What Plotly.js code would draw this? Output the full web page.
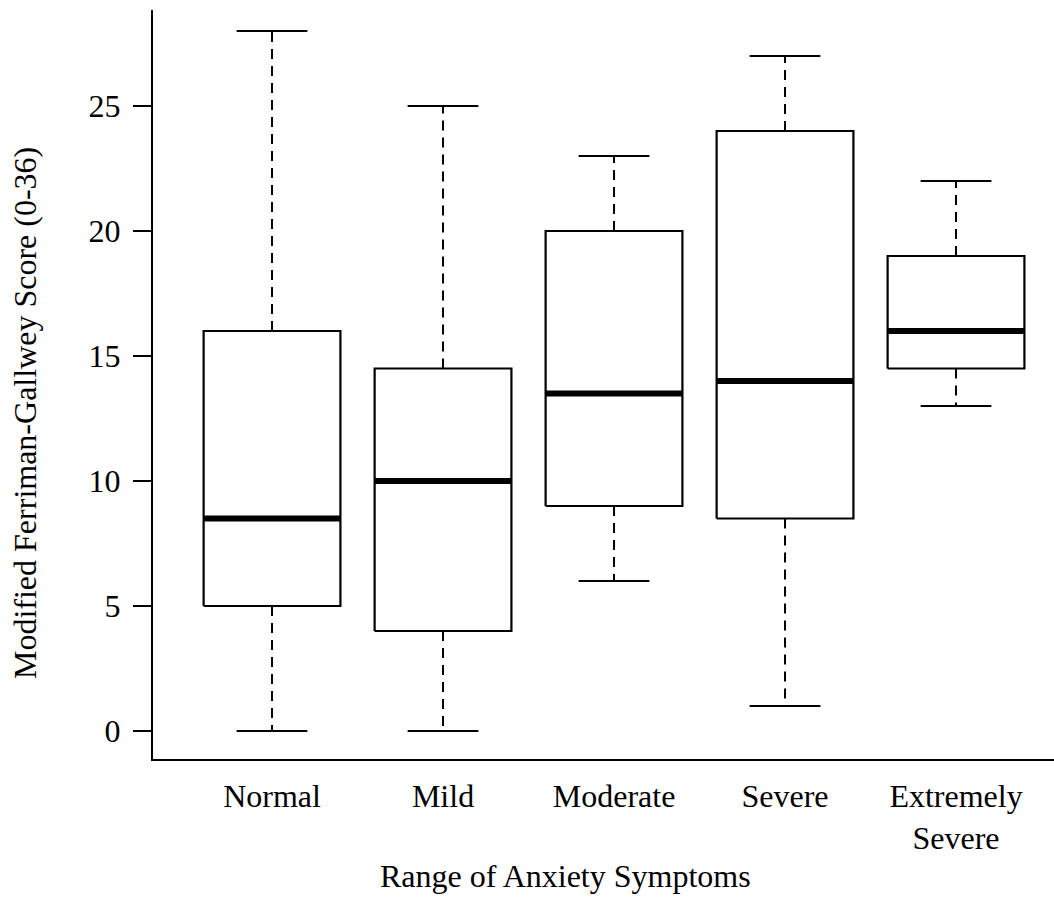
<!DOCTYPE html>
<html>
<head>
<meta charset="utf-8">
<script src="https://cdn.plot.ly/plotly-3.0.1.min.js"></script>
<style>html,body{margin:0;padding:0;background:#fff;}#chart{width:1054px;height:897px;}</style>
</head>
<body>
<div id="chart"></div>
<script>
const categories = ["Normal", "Mild", "Moderate", "Severe", "Extremely<br>Severe"];
const minVals = [0, 0, 6, 1, 13];
const q1Vals = [5, 4, 9, 8.5, 14.5];
const medianVals = [8.5, 10, 13.5, 14, 16];
const q3Vals = [16, 14.5, 20, 24, 19];
const maxVals = [28, 25, 23, 27, 22];
const yTicks = [0, 5, 10, 15, 20, 25];

const BOX_HALF = 0.4;
const CAP_HALF = 0.207;
const FONT = "Liberation Serif, Times New Roman, serif";
const FS = 32;

const traces = [];
categories.forEach((c, i) => {
  traces.push({
    type: "scatter", mode: "lines", hoverinfo: "skip", showlegend: false,
    x: [i, i, null, i, i],
    y: [q3Vals[i], maxVals[i], null, q1Vals[i], minVals[i]],
    line: {color: "#000", width: 2, dash: "10px,7px"}
  });
  traces.push({
    type: "scatter", mode: "lines", hoverinfo: "skip", showlegend: false,
    x: [i - CAP_HALF, i + CAP_HALF, null, i - CAP_HALF, i + CAP_HALF],
    y: [maxVals[i], maxVals[i], null, minVals[i], minVals[i]],
    line: {color: "#000", width: 2.2}
  });
  traces.push({
    type: "scatter", mode: "lines", hoverinfo: "skip", showlegend: false,
    x: [i - BOX_HALF, i + BOX_HALF, i + BOX_HALF, i - BOX_HALF, i - BOX_HALF],
    y: [q1Vals[i], q1Vals[i], q3Vals[i], q3Vals[i], q1Vals[i]],
    fill: "toself", fillcolor: "#fff",
    line: {color: "#000", width: 2.2}
  });
  traces.push({
    type: "scatter", mode: "lines", hoverinfo: "skip", showlegend: false,
    x: [i - BOX_HALF, i + BOX_HALF],
    y: [medianVals[i], medianVals[i]],
    line: {color: "#000", width: 6}
  });
});

const layout = {
  width: 1054, height: 897,
  margin: {l: 153, r: 0, t: 10, b: 138},
  paper_bgcolor: "#fff", plot_bgcolor: "#fff",
  font: {family: FONT, size: FS, color: "#000"},
  showlegend: false,
  xaxis: {
    range: [-0.696, 4.573],
    tickvals: categories.map((c, i) => i),
    ticktext: categories,
    ticks: "", showgrid: false, zeroline: false,
    showline: true, linecolor: "#000", linewidth: 2,
    ticklabelstandoff: 8,
    tickfont: {family: FONT, size: FS, color: "#000"}
  },
  yaxis: {
    range: [-1.12, 28.84],
    tickvals: yTicks,
    ticks: "outside", ticklen: 18, tickwidth: 2, tickcolor: "#000",
    showgrid: false, zeroline: false,
    showline: true, linecolor: "#000", linewidth: 2,
    ticklabelstandoff: 6,
    tickfont: {family: FONT, size: FS, color: "#000"}
  },
  annotations: [{
    text: "Range of Anxiety Symptoms",
    xref: "paper", yref: "paper", x: 0.458, y: -0.156,
    xanchor: "center", yanchor: "middle", showarrow: false,
    font: {family: FONT, size: FS, color: "#000"}
  }, {
    text: "Modified Ferriman-Gallwey Score (0-36)",
    xref: "paper", yref: "paper", x: -0.142, y: 0.462, textangle: -90,
    xanchor: "center", yanchor: "middle", showarrow: false,
    font: {family: FONT, size: FS, color: "#000"}
  }]
};

Plotly.newPlot("chart", traces, layout, {displayModeBar: false, staticPlot: true});
</script>
</body>
</html>
